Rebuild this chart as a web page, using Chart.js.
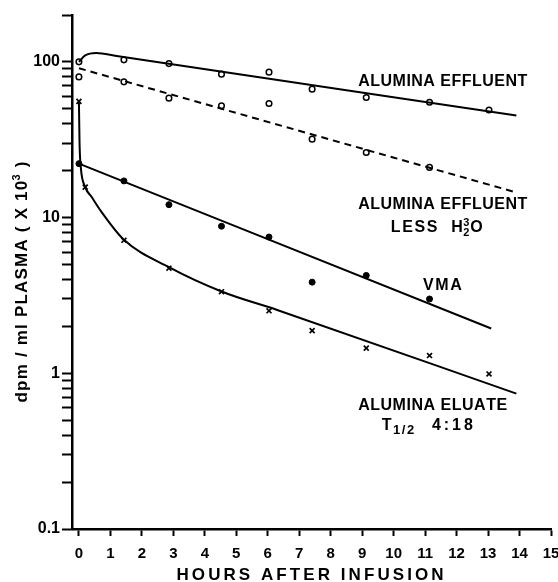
<!DOCTYPE html>
<html><head><meta charset="utf-8">
<script src="https://cdn.jsdelivr.net/npm/chart.js@4"></script>
<style>html,body{margin:0;padding:0;background:#fff}canvas{display:block}</style>
</head>
<body>
<canvas id="c" width="558" height="582"></canvas>
<script>
// ---- data ----
const hours = [0, 1.43, 2.86, 4.53, 6.04, 7.41, 9.13, 11.14, 13.03];
const effluent = [100, 103, 97.5, 83.4, 85.9, 66.8, 59.0, 55.1, 49.1];
const effluentLessH3O = [80.1, 74.4, 58.5, 52.2, 54.0, 31.9, 26.2, 21.0];
const vma = [22.2, 17.2, 12.1, 8.8, 7.5, 3.85, 4.25, 3.0];
const eluateHours = [0, 0.2, 1.43, 2.86, 4.53, 6.04, 7.41, 9.13, 11.14, 13.03];
const eluate = [55.7, 15.7, 7.15, 4.73, 3.34, 2.52, 1.88, 1.45, 1.30, 0.99];

// fitted curves as drawn on the figure
const effluentFitHours = [0, 0.2, 0.55, 1.2, 13.9];
const effluentFit = [100, 110, 114, 109, 45.3];
const lessFitHours = [0, 13.9];
const lessFit = [91, 14.5];
const vmaFitHours = [0, 13.1];
const vmaFit = [22.2, 1.94];
const eluateFitHours = [0, 0.02, 0.06, 0.2, 0.4, 0.7, 1.43, 2.86, 4.53, 6.3, 13.9];
const eluateFit = [55.7, 30, 21, 15.7, 13.6, 11, 7.2, 4.8, 3.35, 2.55, 0.74];

// ticks
const xTickValues = [0,1,2,3,4,5,6,7,8,9,10,11,12,13,14,15];
const yTickValues = [0.1,0.2,0.3,0.4,0.5,0.6,0.7,0.8,0.9,1,2,3,4,5,6,7,8,9,10,20,30,40,50,60,70,80,90,100,200];
const yLabelValues = [0.1, 1, 10, 100];
const yLabelTexts = ['0.1', '1', '10', '100'];

const zip = (xs, ys) => xs.map((x, i) => ({x, y: ys[i]}));

const FAM = '"Liberation Sans", Arial, sans-serif';
const F16 = 'bold 16px ' + FAM;
const F17 = 'bold 17px ' + FAM;
const F11 = 'bold 11px ' + FAM;
const F13 = 'bold 13px ' + FAM;

function glyphs(ctx, segs) {
  const out = [];
  for (const s of segs) {
    const font = s.font || F16;
    ctx.font = font;
    if (s.stack) {
      out.push({stack: s.stack, font, w: Math.max(...s.stack.map(o => ctx.measureText(o.t).width)), gap: s.gap ?? 1});
    } else {
      for (const ch of s.t) out.push({ch, font, dy: s.dy || 0, w: ctx.measureText(ch).width, gap: s.gap ?? 1});
    }
  }
  return out;
}
function drawText(ctx, segs, cx, cy, width, cap) {
  const g = glyphs(ctx, segs);
  const nat = g.reduce((a, b) => a + b.w, 0);
  const gaps = g.slice(1).reduce((a, b) => a + b.gap, 0);
  const extra = (width - nat) / gaps;
  let x = cx - width / 2;
  ctx.textAlign = 'left';
  ctx.textBaseline = 'alphabetic';
  ctx.fillStyle = '#000';
  g.forEach((o, i) => {
    if (i > 0) x += extra * o.gap;
    ctx.font = o.font;
    if (o.stack) o.stack.forEach(q => ctx.fillText(q.t, x, cy + cap / 2 + q.dy));
    else ctx.fillText(o.ch, x, cy + cap / 2 + o.dy);
    x += o.w;
  });
}

// annotations placed at data positions
const notes = [
  {segs: [{t: 'ALUMINA EFFLUENT'}], hx: 11.56, v: 76.6, w: 169},
  {segs: [{t: 'ALUMINA EFFLUENT'}], hx: 11.56, v: 12.3, w: 169},
  {segs: [{t: 'LESS  H'}, {stack: [{t: '3', dy: -6}, {t: '2', dy: 4}], font: F11, gap: 0.3}, {t: 'O', gap: 0.6}], hx: 11.37, v: 8.75, w: 92},
  {segs: [{t: 'VMA'}], hx: 11.55, v: 3.71, w: 39},
  {segs: [{t: 'ALUMINA ELUATE'}], hx: 11.24, v: 0.632, w: 149},
  {segs: [{t: 'T'}, {t: '1/2', font: F13, dy: 4, gap: 0.4}, {t: '  4:18', gap: 0.8}], hx: 11.07, v: 0.47, w: 91}
];

const textPlugin = {
  id: 'texts',
  beforeDraw(chart) {
    const c = chart.ctx;
    c.save(); c.fillStyle = '#fff'; c.fillRect(0, 0, chart.width, chart.height); c.restore();
  },
  afterDraw(chart) {
    const c = chart.ctx, xs = chart.scales.x, ys = chart.scales.y;
    c.save();
    notes.forEach(n => drawText(c, n.segs, xs.getPixelForValue(n.hx), ys.getPixelForValue(n.v), n.w, 11.5));
    // x axis title
    drawText(c, [{t: 'HOURS AFTER INFUSION', font: F17}], 310, 574, 267, 12.2);
    // y axis title
    c.translate(21, 282);
    c.rotate(-Math.PI / 2);
    drawText(c, [{t: 'dpm / ml PLASMA ( X 10', font: F17}, {t: '3', font: F11, dy: -7, gap: 0.3}, {t: ' )', font: F17}], 0, 0, 241, 12.2);
    c.restore();
  }
};

const fitStyle = {showLine: true, borderColor: '#000', borderWidth: 2, pointRadius: 0, cubicInterpolationMode: 'monotone', fill: false};

new Chart(document.getElementById('c'), {
  type: 'scatter',
  data: {
    datasets: [
      Object.assign({label: 'Alumina effluent fit', data: zip(effluentFitHours, effluentFit)}, fitStyle),
      Object.assign({label: 'Less H3O fit', data: zip(lessFitHours, lessFit), borderDash: [7, 5]}, fitStyle),
      Object.assign({label: 'VMA fit', data: zip(vmaFitHours, vmaFit)}, fitStyle),
      Object.assign({label: 'Alumina eluate fit', data: zip(eluateFitHours, eluateFit)}, fitStyle),
      {label: 'Alumina effluent', data: zip(hours, effluent), showLine: false, pointStyle: 'circle', pointRadius: 2.8, pointBorderWidth: 1.5, pointBorderColor: '#000', pointBackgroundColor: '#fff'},
      {label: 'Alumina effluent less H3O', data: zip(hours, effluentLessH3O), showLine: false, pointStyle: 'circle', pointRadius: 2.8, pointBorderWidth: 1.5, pointBorderColor: '#000', pointBackgroundColor: '#fff'},
      {label: 'VMA', data: zip(hours, vma), showLine: false, pointStyle: 'circle', pointRadius: 3, pointBorderWidth: 1, pointBorderColor: '#000', pointBackgroundColor: '#000'},
      {label: 'Alumina eluate', data: zip(eluateHours, eluate), showLine: false, pointStyle: 'crossRot', pointRadius: 3.5, pointBorderWidth: 1.7, pointBorderColor: '#000'}
    ]
  },
  options: {
    responsive: false,
    devicePixelRatio: 1,
    animation: false,
    layout: {padding: {top: 15, right: 7, left: 0, bottom: 0}},
    plugins: {legend: {display: false}, tooltip: {enabled: false}},
    scales: {
      x: {
        type: 'linear', position: 'bottom', min: -0.22, max: 15,
        afterBuildTicks: s => { s.ticks = xTickValues.map(v => ({value: v})); },
        afterFit: s => { s.height = 53; s.paddingLeft = 0; s.paddingRight = 0; },
        ticks: {autoSkip: false, maxRotation: 0, padding: 9, color: '#000', font: {family: FAM, size: 15, weight: 'bold'}, callback: v => String(v)},
        grid: {drawOnChartArea: false, drawTicks: true, tickLength: 7, tickWidth: 2, tickColor: '#000'},
        border: {display: true, color: '#000', width: 2.5}
      },
      y: {
        type: 'logarithmic', position: 'left', min: 0.1, max: 200,
        afterBuildTicks: s => { s.ticks = yTickValues.map(v => ({value: v})); },
        afterFit: s => { s.width = 72; s.paddingTop = 0; s.paddingBottom = 0; },
        ticks: {autoSkip: false, padding: 2, color: '#000', font: {family: FAM, size: 16, weight: 'bold'},
          callback: v => { const i = yLabelValues.indexOf(v); return i >= 0 ? yLabelTexts[i] : ''; }},
        grid: {drawOnChartArea: false, drawTicks: true, tickLength: 10, tickWidth: 2, tickColor: '#000'},
        border: {display: true, color: '#000', width: 2.5}
      }
    }
  },
  plugins: [textPlugin]
});
</script>
</body></html>
